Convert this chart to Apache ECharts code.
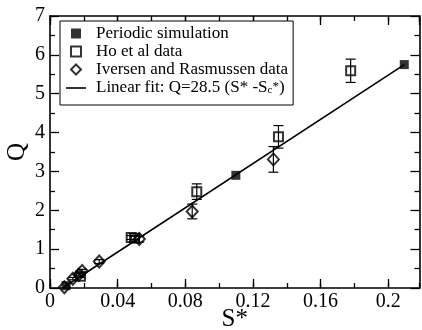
<!DOCTYPE html>
<html>
<head>
<meta charset="utf-8">
<script src="https://cdn.jsdelivr.net/npm/echarts@6/dist/echarts.min.js"></script>
<style>html,body{margin:0;padding:0;background:#fff}#c{width:422px;height:330px}</style>
</head>
<body>
<div id="c"></div>
<script>
// ---- data ----
var periodicX = [0.0095, 0.1099, 0.2095];
var periodicY = [0.06, 2.90, 5.75];

var hoX   = [0.0180, 0.0480, 0.0500, 0.0868, 0.1351, 0.1778];
var hoY   = [0.30, 1.30, 1.28, 2.48, 3.89, 5.59];
var hoErr = [0.03, 0.05, 0.05, 0.20, 0.29, 0.30];

var ivX   = [0.0085, 0.0135, 0.0170, 0.0190, 0.0291, 0.0528, 0.0841, 0.1321];
var ivY   = [0.02, 0.24, 0.34, 0.44, 0.68, 1.26, 1.97, 3.31];
var ivErr = [0.00, 0.03, 0.03, 0.04, 0.05, 0.08, 0.19, 0.33];

var fitX = [0.0075, 0.2095];
var fitY = [0.00, 5.75];

var xTicks = [0, 0.04, 0.08, 0.12, 0.16, 0.2];
var yTicks = [0, 1, 2, 3, 4, 5, 6, 7];

var names = ['Periodic simulation', 'Ho et al data', 'Iversen and Rasmussen data', 'Linear fit: Q=28.5 (S* -S*c)'];

function zip(a, b, c) { return a.map(function (v, i) { return c ? [v, b[i], c[i]] : [v, b[i]]; }); }

var FONT = 'Liberation Serif';
var XMAX = 0.2185;

var chart = echarts.init(document.getElementById('c'), null, {renderer: 'canvas'});

function errRender(params, api) {
  var x = api.value(0), y = api.value(1), e = api.value(2);
  if (!e) return null;
  var p1 = api.coord([x, y + e]);
  var p2 = api.coord([x, y - e]);
  var w = 5;
  var st = {stroke: '#000', lineWidth: 1.2};
  return {
    type: 'group',
    children: [
      {type: 'line', shape: {x1: p1[0], y1: p1[1], x2: p2[0], y2: p2[1]}, style: st},
      {type: 'line', shape: {x1: p1[0] - w, y1: p1[1], x2: p1[0] + w, y2: p1[1]}, style: st},
      {type: 'line', shape: {x1: p2[0] - w, y1: p2[1], x2: p2[0] + w, y2: p2[1]}, style: st}
    ]
  };
}

var axisLineStyle = {color: '#000', width: 1.6};
var labelStyle = {color: '#000', fontFamily: FONT, fontSize: 20};

var SQ = 'path://M0,0L10,0L10,10L0,10Z';
var DM = 'path://M6,0L12,6L6,12L0,6Z';

var option = {
  animation: false,
  backgroundColor: '#fff',
  grid: {left: 50, right: 2.5, top: 16, bottom: 42, containLabel: false, outerBoundsMode: 'none'},
  xAxis: [
    { // main bottom axis
      type: 'value', min: 0, max: XMAX, interval: 0.04, position: 'bottom',
      name: 'S*', nameLocation: 'middle', nameGap: 19, nameMoveOverlap: false,
      nameTextStyle: {color: '#000', fontFamily: FONT, fontSize: 25},
      axisLine: {show: true, onZero: false, lineStyle: axisLineStyle},
      axisTick: {show: true, inside: true, length: 9, lineStyle: {color: '#000', width: 1.3}},
      axisLabel: Object.assign({margin: 4, showMaxLabel: false, formatter: function (v) {
        for (var i = 0; i < xTicks.length; i++) if (Math.abs(v - xTicks[i]) < 1e-9) return String(xTicks[i]);
        return '';
      }}, labelStyle),
      splitLine: {show: false}
    },
    { // bottom minor ticks
      type: 'value', min: 0, max: XMAX, interval: 0.02, position: 'bottom',
      axisLine: {show: false, onZero: false},
      axisTick: {show: true, inside: true, length: 5, lineStyle: {color: '#000', width: 1.3}},
      axisLabel: {show: false}, splitLine: {show: false}
    },
    { // top mirror major
      type: 'value', min: 0, max: XMAX, interval: 0.04, position: 'top',
      axisLine: {show: true, onZero: false, lineStyle: axisLineStyle},
      axisTick: {show: true, inside: true, length: 9, lineStyle: {color: '#000', width: 1.3}},
      axisLabel: {show: false}, splitLine: {show: false}
    },
    { // top mirror minor
      type: 'value', min: 0, max: XMAX, interval: 0.02, position: 'top',
      axisLine: {show: false, onZero: false},
      axisTick: {show: true, inside: true, length: 5, lineStyle: {color: '#000', width: 1.3}},
      axisLabel: {show: false}, splitLine: {show: false}
    }
  ],
  yAxis: [
    {
      type: 'value', min: 0, max: 7, interval: 1, position: 'left',
      name: 'Q', nameLocation: 'middle', nameGap: 20, nameRotate: 90, nameMoveOverlap: false,
      nameTextStyle: {color: '#000', fontFamily: FONT, fontSize: 25},
      axisLine: {show: true, onZero: false, lineStyle: axisLineStyle},
      axisTick: {show: true, inside: true, length: 9, lineStyle: {color: '#000', width: 1.3}},
      minorTick: {show: true, splitNumber: 2, length: 5, lineStyle: {color: '#000', width: 1.3}},
      axisLabel: Object.assign({margin: 5, formatter: function (v) { return yTicks.indexOf(v) >= 0 ? String(v) : ''; }}, labelStyle),
      splitLine: {show: false}, minorSplitLine: {show: false}
    },
    {
      type: 'value', min: 0, max: 7, interval: 1, position: 'right',
      axisLine: {show: true, onZero: false, lineStyle: axisLineStyle},
      axisTick: {show: true, inside: true, length: 9, lineStyle: {color: '#000', width: 1.3}},
      minorTick: {show: true, splitNumber: 2, length: 5, lineStyle: {color: '#000', width: 1.3}},
      axisLabel: {show: false}, splitLine: {show: false}, minorSplitLine: {show: false}
    }
  ],
  legend: {
    orient: 'vertical', left: 60, top: 21,
    backgroundColor: '#fff', borderColor: '#000', borderWidth: 1,
    padding: [4, 5, 8, 6],
    itemWidth: 20, itemHeight: 10, itemGap: 1, symbolKeepAspect: true,
    textStyle: {color: '#000', fontFamily: FONT, fontSize: 17, lineHeight: 16, padding: [0, 0, 0, 5],
      rich: {
        n: {fontFamily: FONT, fontSize: 17, color: '#000'},
        sub: {fontFamily: FONT, fontSize: 11, color: '#000', verticalAlign: 'bottom', lineHeight: 10, padding: [6, 0, 0, 0]},
        sup: {fontFamily: FONT, fontSize: 13, color: '#000', verticalAlign: 'top', lineHeight: 12, padding: [0, 0, 4, 0]}
      }
    },
    formatter: function (n) {
      if (n === names[3]) return '{n|Linear fit: Q=28.5 (S* -S}{sub|c}{sup|*}{n|)}';
      return n;
    },
    data: [
      {name: names[0], icon: SQ},
      {name: names[1], icon: SQ},
      {name: names[2], icon: DM},
      {name: names[3], icon: 'path://M0,0L20,0L20,1.6L0,1.6Z'}
    ]
  },
  series: [
    {
      name: names[3], type: 'line', xAxisIndex: 0, yAxisIndex: 0,
      data: zip(fitX, fitY), showSymbol: false, symbol: 'none',
      lineStyle: {color: '#000', width: 1.6}, itemStyle: {color: '#000'}, z: 2
    },
    {
      name: 'errHo', type: 'custom', xAxisIndex: 0, yAxisIndex: 0,
      data: zip(hoX, hoY, hoErr), renderItem: errRender, z: 3, silent: true
    },
    {
      name: 'errIv', type: 'custom', xAxisIndex: 0, yAxisIndex: 0,
      data: zip(ivX, ivY, ivErr), renderItem: errRender, z: 3, silent: true
    },
    {
      name: names[2], type: 'scatter', xAxisIndex: 0, yAxisIndex: 0,
      data: zip(ivX, ivY), symbol: 'diamond', symbolSize: [11, 12],
      itemStyle: {color: 'rgba(255,255,255,0)', borderColor: '#000', borderWidth: 2}, z: 4
    },
    {
      name: names[1], type: 'scatter', xAxisIndex: 0, yAxisIndex: 0,
      data: zip(hoX, hoY), symbol: 'rect', symbolSize: 9,
      itemStyle: {color: 'rgba(255,255,255,0)', borderColor: '#000', borderWidth: 2}, z: 4
    },
    {
      name: names[0], type: 'scatter', xAxisIndex: 0, yAxisIndex: 0,
      data: zip(periodicX, periodicY), symbol: 'rect', symbolSize: 9,
      itemStyle: {color: '#000', borderColor: '#000', borderWidth: 0}, z: 5
    }
  ]
};
chart.setOption(option);
</script>
</body>
</html>
